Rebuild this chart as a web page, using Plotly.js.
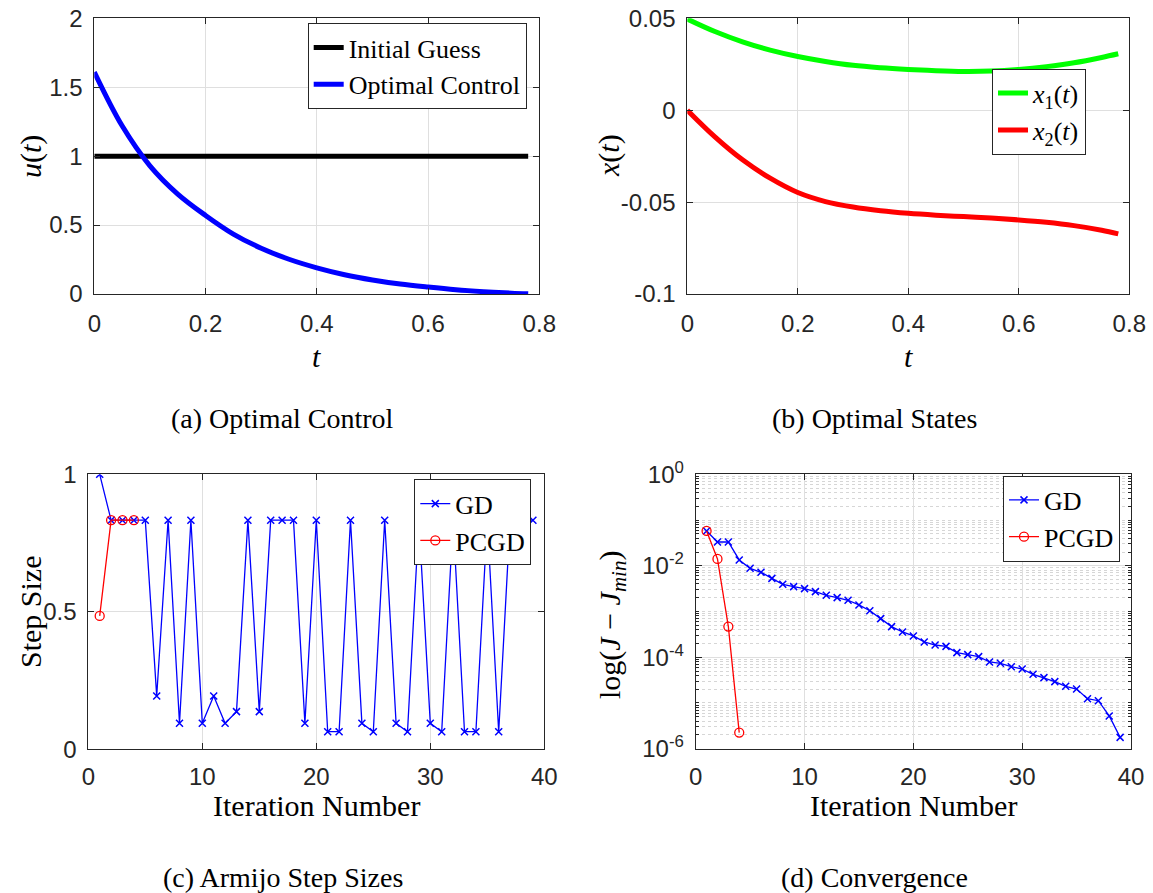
<!DOCTYPE html>
<html>
<head>
<meta charset="utf-8">
<script src="https://cdn.plot.ly/plotly-3.0.1.min.js"></script>
<style>html,body{margin:0;padding:0;background:#fff;}#chart{width:1153px;height:893px;}</style>
</head>
<body>
<div id="chart"></div>
<script>
// ---------- data ----------
const tGrid = [0, 0.05, 0.10, 0.15, 0.20, 0.25, 0.30, 0.35, 0.40, 0.45, 0.50, 0.55, 0.60, 0.65, 0.70, 0.75, 0.78];
const uInitial = [1, 1, 1, 1, 1, 1, 1, 1, 1, 1, 1, 1, 1, 1, 1, 1, 1];
const uOptimal = [1.61, 1.22, 0.93, 0.725, 0.57, 0.435, 0.332, 0.252, 0.19, 0.14, 0.102, 0.072, 0.05, 0.031, 0.017, 0.006, 0.001];
const x1 = [0.0496, 0.0428, 0.0372, 0.0327, 0.0292, 0.0265, 0.0244, 0.0231, 0.0222, 0.0215, 0.0211, 0.0213, 0.0222, 0.0237, 0.0258, 0.0287, 0.0307];
const x2 = [0, -0.0145, -0.027, -0.037, -0.0448, -0.0497, -0.0527, -0.0547, -0.0561, -0.0571, -0.0579, -0.0587, -0.0597, -0.061, -0.0628, -0.0653, -0.0673];

const itGD = [1,2,3,4,5,6,7,8,9,10,11,12,13,14,15,16,17,18,19,20,21,22,23,24,25,26,27,28,29,30,31,32,33,34,35,36,37,38,39];
const stepGD = [1.0, 0.833, 0.833, 0.833, 0.833, 0.194, 0.833, 0.0945, 0.833, 0.0945,
                0.194, 0.0945, 0.137, 0.833, 0.137, 0.833, 0.833, 0.833, 0.0945, 0.833,
                0.064, 0.064, 0.833, 0.0945, 0.064, 0.833, 0.0945, 0.064, 0.833, 0.0945,
                0.064, 0.833, 0.064, 0.064, 0.833, 0.064, 0.833, 0.833, 0.833];
const itPCGD = [1, 2, 3, 4];
const stepPCGD = [0.485, 0.833, 0.833, 0.833];

const errGD = [0.0577, 0.0331, 0.0331, 0.0134, 0.0088, 0.0072, 0.0053, 0.00394, 0.0035, 0.00316,
               0.00272, 0.00226, 0.00201, 0.00176, 0.00139, 0.00104, 0.000698, 0.000467, 0.000357, 0.000292,
               0.000216, 0.000185, 0.000173, 0.000126, 0.000114, 0.000103, 7.87e-5, 7.36e-5, 6.22e-5, 5.53e-5,
               4.23e-5, 3.58e-5, 2.93e-5, 2.31e-5, 2.02e-5, 1.24e-5, 1.12e-5, 5.2e-6, 1.77e-6];
const errPCGD = [0.0577, 0.0141, 0.000467, 2.25e-6];

const logTickVals = [1, 1e-2, 1e-4, 1e-6];
const logTickText = ['10<sup>0</sup>', '10<sup>-2</sup>', '10<sup>-4</sup>', '10<sup>-6</sup>'];

// ---------- helpers ----------
const W = 1153, H = 893;
const px = x => x / W;
const py = y => 1 - y / H;
const SERIF = 'Liberation Serif, Times New Roman, serif';
const SANS = 'Liberation Sans, Arial, sans-serif';
const AX = '#262626';

function axis(extra) {
  return Object.assign({
    showline: true, linecolor: AX, linewidth: 1, mirror: 'ticks',
    ticks: 'inside', ticklen: 6, tickcolor: AX, tickwidth: 1,
    showgrid: true, gridcolor: '#dfdfdf', gridwidth: 1, zeroline: false,
    tickfont: {family: SANS, size: 24, color: AX},
    fixedrange: true
  }, extra);
}

// minor gridline positions for log axis
const minorVals = [];
for (let e = -6; e < 0; e++) for (let m = 2; m <= 10; m++) {
  if (m === 10 && (e + 1) % 2 === 0) continue;
  minorVals.push(m * Math.pow(10, e));
}

const traces = [
  {x: tGrid, y: uInitial, mode: 'lines', name: 'Initial Guess', line: {color: '#000', width: 5}, xaxis: 'x', yaxis: 'y', legend: 'legend'},
  {x: tGrid, y: uOptimal, mode: 'lines', name: 'Optimal Control', line: {color: '#0000ff', width: 5, shape: 'spline'}, xaxis: 'x', yaxis: 'y', legend: 'legend'},
  {x: tGrid, y: x1, mode: 'lines', name: '<i>x</i><sub>1</sub>(<i>t</i>)', line: {color: '#00ff00', width: 5, shape: 'spline'}, xaxis: 'x2', yaxis: 'y2', legend: 'legend2'},
  {x: tGrid, y: x2, mode: 'lines', name: '<i>x</i><sub>2</sub>(<i>t</i>)', line: {color: '#ff0000', width: 5, shape: 'spline'}, xaxis: 'x2', yaxis: 'y2', legend: 'legend2'},
  {x: itGD, y: stepGD, mode: 'lines+markers', name: 'GD', line: {color: '#0000ff', width: 1.3}, marker: {symbol: 'x-thin-open', size: 7, color: '#0000ff', line: {color: '#0000ff', width: 1.5}}, xaxis: 'x3', yaxis: 'y3', legend: 'legend3'},
  {x: itPCGD, y: stepPCGD, mode: 'lines+markers', name: 'PCGD', line: {color: '#ff0000', width: 1.3}, marker: {symbol: 'circle-open', size: 9, color: '#ff0000', line: {color: '#ff0000', width: 1.3}}, xaxis: 'x3', yaxis: 'y3', legend: 'legend3'},
  {x: itGD, y: errGD, mode: 'lines+markers', name: 'GD', line: {color: '#0000ff', width: 1.3}, marker: {symbol: 'x-thin-open', size: 7, color: '#0000ff', line: {color: '#0000ff', width: 1.5}}, xaxis: 'x4', yaxis: 'y4', legend: 'legend4'},
  {x: itPCGD, y: errPCGD, mode: 'lines+markers', name: 'PCGD', line: {color: '#ff0000', width: 1.3}, marker: {symbol: 'circle-open', size: 9, color: '#ff0000', line: {color: '#ff0000', width: 1.3}}, xaxis: 'x4', yaxis: 'y4', legend: 'legend4'}
];

function legendBox(right, midY) {
  return {
    x: px(right), y: py(midY), xanchor: 'right', yanchor: 'middle',
    bgcolor: '#fff', bordercolor: '#262626', borderwidth: 1,
    font: {family: SERIF, size: 26, color: '#000'},
    itemwidth: 30, tracegroupgap: 0, itemclick: false, itemdoubleclick: false
  };
}

function ann(text, x, y, size, angle) {
  return {text: text, x: px(x), y: py(y), xref: 'paper', yref: 'paper',
          xanchor: 'center', yanchor: 'middle', showarrow: false, textangle: angle || 0,
          font: {family: SERIF, size: size, color: '#000'}};
}

const layout = {
  width: W, height: H,
  margin: {l: 0, r: 0, t: 0, b: 0},
  paper_bgcolor: '#fff', plot_bgcolor: '#fff',
  showlegend: true,
  xaxis: axis({domain: [px(94.3), px(539.3)], range: [0, 0.8], tickvals: [0, 0.2, 0.4, 0.6, 0.8], ticktext: ['0','0.2','0.4','0.6','0.8'], anchor: 'y', ticklabelstandoff: 8}),
  yaxis: axis({domain: [py(294), py(18.3)], range: [0, 2], tickvals: [0, 0.5, 1, 1.5, 2], ticktext: ['0','0.5','1','1.5','2'], anchor: 'x', ticklabelstandoff: 6}),
  xaxis2: axis({domain: [px(687.3), px(1129.3)], range: [0, 0.8], tickvals: [0, 0.2, 0.4, 0.6, 0.8], ticktext: ['0','0.2','0.4','0.6','0.8'], anchor: 'y2', ticklabelstandoff: 8}),
  yaxis2: axis({domain: [py(294), py(18.3)], range: [-0.1, 0.05], tickvals: [-0.1, -0.05, 0, 0.05], ticktext: ['-0.1','-0.05','0','0.05'], anchor: 'x2', ticklabelstandoff: 6}),
  xaxis3: axis({domain: [px(88.3), px(544.3)], range: [0, 40], tickvals: [0, 10, 20, 30, 40], anchor: 'y3', ticklabelstandoff: 6}),
  yaxis3: axis({domain: [py(749.3), py(474.3)], range: [0, 1], tickvals: [0, 0.5, 1], ticktext: ['0','0.5','1'], anchor: 'x3', ticklabelstandoff: 6}),
  xaxis4: axis({domain: [px(695.7), px(1131)], range: [0, 40], tickvals: [0, 10, 20, 30, 40], anchor: 'y4', ticklabelstandoff: 6}),
  yaxis4: axis({domain: [py(748.7), py(474.3)], type: 'log', range: [-6, 0], tickvals: logTickVals, ticktext: logTickText, anchor: 'x4', ticklabelstandoff: 6,
    minor: {tickmode: 'array', tickvals: minorVals, ticks: 'inside', ticklen: 3, tickcolor: AX, showgrid: true, gridcolor: '#d6d6d6', griddash: 'dot', gridwidth: 1}}),
  legend: legendBox(526.7, 66),
  legend2: legendBox(1086, 111.7),
  legend3: legendBox(531.3, 522.2),
  legend4: legendBox(1120, 518.5),
  annotations: [
    ann('<i>t</i>', 316.8, 356, 30),
    ann('<i>u</i>(<i>t</i>)', 31, 157, 30, -90),
    ann('<i>t</i>', 908.3, 356, 30),
    ann('<i>x</i>(<i>t</i>)', 609, 156, 30, -90),
    ann('Iteration Number', 316.3, 805, 30),
    ann('Step Size', 30, 612, 30, -90),
    ann('Iteration Number', 913.3, 805, 30),
    ann('log(<i>J</i> − <i>J</i><sub><i>min</i></sub>)', 612, 625, 30, -90),
    ann('(a) Optimal Control', 282, 419, 28),
    ann('(b) Optimal States', 874, 419, 28),
    ann('(c) Armijo Step Sizes', 283, 877, 28),
    ann('(d) Convergence', 874, 877, 28)
  ]
};

Plotly.newPlot('chart', traces, layout, {displayModeBar: false, staticPlot: true});
</script>
</body>
</html>
